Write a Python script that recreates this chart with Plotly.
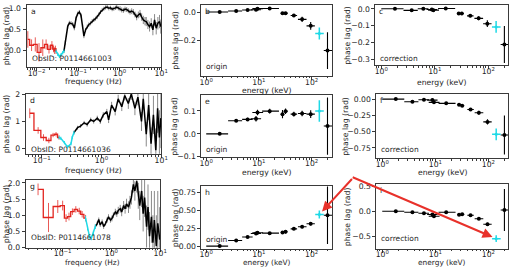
import numpy as np
import plotly.graph_objects as go

W, H = 520, 271

# ---------------- energy-resolved lags (middle & right columns) ----------------
energy = [1.8, 3.7, 6.1, 8.8, 9.4, 16, 28, 32, 46, 66, 96, 200]
energy_lo = [1.0, 2.6, 4.8, 7.0, 7.5, 11.5, 26, 30, 40, 55, 80, 170]
energy_hi = [2.6, 4.8, 7.6, 11.0, 12.0, 24, 30, 35, 53, 80, 115, 245]
energy_cyan = [140]
energy_cyan_lo = [117]
energy_cyan_hi = [170]

lag_b = [0.0, 0.007, 0.014, 0.016, 0.024, 0.025, -0.008, -0.008, -0.025, -0.052, -0.098, -0.273]
err_b = [0.004, 0.004, 0.005, 0.006, 0.006, 0.006, 0.007, 0.007, 0.01, 0.018, 0.028, 0.13]
lag_b_cyan = [-0.152]
err_b_cyan = [0.043]

lag_c = [0.0, -0.009, 0.0, -0.004, -0.008, 0.002, -0.028, -0.028, -0.042, -0.057, -0.089, -0.213]
err_c = [0.004, 0.004, 0.004, 0.005, 0.005, 0.005, 0.006, 0.006, 0.009, 0.012, 0.02, 0.11]
lag_c_cyan = [-0.108]
err_c_cyan = [0.035]

lag_e = [0.0, 0.057, 0.063, 0.066, 0.093, 0.099, 0.086, 0.099, 0.086, 0.089, 0.086, 0.034]
err_e = [0.002, 0.005, 0.007, 0.012, 0.012, 0.01, 0.018, 0.012, 0.01, 0.012, 0.017, 0.125]
lag_e_cyan = [0.1]
err_e_cyan = [0.047]

lag_f = [0.0, -0.04, -0.01, -0.015, -0.05, -0.065, -0.085, -0.10, -0.16, -0.21, -0.35, -0.55]
err_f = [0.005, 0.008, 0.01, 0.02, 0.02, 0.015, 0.02, 0.02, 0.02, 0.03, 0.04, 0.3]
lag_f_cyan = [-0.54]
err_f_cyan = [0.09]

lag_h = [0.0, 0.077, 0.127, 0.175, 0.185, 0.18, 0.19, 0.20, 0.24, 0.27, 0.31, 0.43]
err_h = [0.005, 0.01, 0.012, 0.02, 0.02, 0.015, 0.02, 0.025, 0.015, 0.02, 0.025, 0.4]
lag_h_cyan = [0.44]
err_h_cyan = [0.055]

lag_i = [0.0, -0.02, -0.04, -0.065, -0.1, -0.02, -0.07, -0.06, -0.08, -0.15, -0.26, 0.025]
err_i = [0.01, 0.01, 0.01, 0.02, 0.02, 0.015, 0.02, 0.02, 0.02, 0.02, 0.03, 0.42]
lag_i_cyan = [-0.55]
err_i_cyan = [0.07]

# ---------------- frequency-resolved lags (left column) ----------------
# ObsID P0114661003
freq_a_red = [0.00617, 0.00759, 0.00933, 0.01148, 0.01413, 0.01698, 0.01995, 0.02344, 0.0257, 0.0272, 0.0285, 0.0295]
lag_a_red = [0.26, 0.12, 0.14, -0.05, 0.06, 0.14, 0.02, 0.12, 0.03, -0.01, 0.04, -0.02]
err_a_red = [0.2, 0.14, 0.17, 0.22, 0.2, 0.12, 0.1, 0.1, 0.08, 0.08, 0.07, 0.07]
freq_a_cyan = [0.0295, 0.0324, 0.0355, 0.0389, 0.0427, 0.0457]
lag_a_cyan = [-0.02, -0.10, -0.15, -0.11, -0.06, -0.02]
err_a_cyan = [0.04, 0.04, 0.04, 0.04, 0.04, 0.04]
freq_a = [0.0457, 0.0490, 0.0525, 0.0562, 0.0617, 0.0676, 0.0741, 0.0813, 0.0891, 0.0977,
          0.1072, 0.1175, 0.1288, 0.1380, 0.1514, 0.1660, 0.1820, 0.1995, 0.2188, 0.2399,
          0.2630, 0.2884, 0.3162, 0.3467, 0.3802, 0.4169, 0.4571, 0.5012, 0.5495, 0.6026,
          0.6607, 0.7244, 0.7943, 0.8511, 0.9333, 1.023, 1.122, 1.230, 1.349, 1.479,
          1.622, 1.778, 1.950, 2.138, 2.344, 2.570, 2.818, 3.090, 3.388, 3.715,
          4.074, 4.365, 4.786, 5.248, 5.754, 6.310, 6.918, 7.586, 8.318, 9.120, 9.772]
lag_a = [-0.02, 0.18, 0.37, 0.57, 0.66, 0.65, 0.63, 0.53, 0.77, 0.88,
         0.92, 0.84, 0.57, 0.34, 0.49, 0.57, 0.62, 0.65, 0.70, 0.73,
         0.76, 0.80, 0.86, 0.92, 0.97, 1.00, 1.03, 1.04, 1.01, 1.02,
         0.99, 1.00, 1.02, 1.04, 1.01, 1.00, 0.97, 0.96, 0.99, 0.98,
         0.95, 0.92, 0.94, 0.92, 0.86, 0.80, 0.85, 0.88, 0.80, 0.73,
         0.70, 0.69, 0.62, 0.57, 0.65, 0.49, 0.73, 0.53, 0.65, 0.69, 0.57]
err_a = [0.05, 0.05, 0.05, 0.05, 0.05, 0.05, 0.05, 0.05, 0.05, 0.05,
         0.05, 0.05, 0.05, 0.05, 0.05, 0.05, 0.05, 0.05, 0.05, 0.05,
         0.05, 0.05, 0.05, 0.05, 0.05, 0.05, 0.05, 0.05, 0.05, 0.05,
         0.05, 0.05, 0.05, 0.05, 0.05, 0.06, 0.06, 0.06, 0.06, 0.06,
         0.06, 0.06, 0.07, 0.07, 0.07, 0.08, 0.08, 0.09, 0.09, 0.1,
         0.1, 0.11, 0.11, 0.12, 0.12, 0.13, 0.14, 0.15, 0.15, 0.16, 0.17]

# ObsID P0114661036
freq_d_red = [0.0631, 0.0871, 0.1072, 0.1318, 0.1549, 0.1738, 0.1950]
lag_d_red = [1.30, 0.67, 0.41, 0.30, 0.50, 0.53, 0.41]
err_d_red = [0.18, 0.12, 0.12, 0.1, 0.08, 0.08, 0.08]
freq_d_cyan = [0.1950, 0.2089, 0.2399, 0.2692, 0.3090, 0.3236, 0.3467]
lag_d_cyan = [0.41, 0.38, 0.22, 0.06, 0.18, 0.41, 0.59]
err_d_cyan = [0.06, 0.06, 0.06, 0.06, 0.06, 0.06, 0.06]
freq_d = [0.3467, 0.3981, 0.4467, 0.5129, 0.5754, 0.6607, 0.7413, 0.8511, 0.9550, 1.072,
          1.230, 1.318, 1.479, 1.698, 1.905, 2.188, 2.455, 2.818, 3.162, 3.631,
          4.074, 4.677, 5.012, 5.623, 6.166, 6.761, 7.413, 8.128, 8.710, 9.333, 9.886]
lag_d = [0.59, 0.77, 0.83, 0.95, 0.89, 1.06, 1.0, 1.12, 1.0, 1.24,
         1.36, 1.06, 1.6, 1.36, 1.83, 1.54, 1.95, 1.66, 2.01, 1.48,
         1.89, 1.0, 1.83, 0.53, 1.6, 0.18, 1.24, -0.06, 1.48, 0.41, 1.12]
err_d = [0.07, 0.07, 0.07, 0.07, 0.08, 0.08, 0.08, 0.09, 0.09, 0.1,
         0.1, 0.12, 0.12, 0.14, 0.15, 0.16, 0.18, 0.2, 0.22, 0.25,
         0.3, 0.35, 0.4, 0.45, 0.55, 0.6, 0.7, 0.8, 0.9, 1.0, 1.1]

# ObsID P0114661078
freq_g_red = [0.0313, 0.0513, 0.0794, 0.1, 0.1175, 0.1349, 0.1585, 0.1862, 0.2188, 0.2512, 0.2951]
lag_g_red = [1.80, 0.93, 1.27, 1.30, 0.91, 0.96, 1.11, 1.18, 1.13, 1.03, 0.91]
err_g_red = [0.18, 0.45, 0.2, 0.15, 0.12, 0.12, 0.1, 0.1, 0.1, 0.1, 0.1]
freq_g_cyan = [0.2951, 0.3236, 0.3548, 0.3890, 0.4266, 0.4677]
lag_g_cyan = [0.91, 0.60, 0.35, 0.30, 0.45, 0.65]
err_g_cyan = [0.07, 0.07, 0.07, 0.07, 0.07, 0.07]
freq_g = [0.4677, 0.5129, 0.5495, 0.5888, 0.6457, 0.6918, 0.7586, 0.8128, 0.8710, 0.9550,
          1.023, 1.096, 1.202, 1.288, 1.380, 1.514, 1.622, 1.778, 1.905, 2.042,
          2.239, 2.399, 2.570, 2.818, 3.020, 3.311, 3.548, 3.802, 4.169, 4.467,
          4.786, 5.248, 5.623, 6.026, 6.607, 7.079, 7.586, 8.318, 8.913, 9.772]
lag_g = [0.65, 0.75, 0.87, 0.70, 0.80, 0.65, 0.75, 0.85, 0.95, 0.85,
         0.90, 1.0, 1.10, 1.05, 1.15, 1.20, 1.10, 1.30, 1.20, 1.35,
         1.25, 1.40, 1.55, 1.95, 1.75, 2.05, 1.60, 1.30, 1.75, 1.05,
         1.55, 0.65, 1.25, 0.35, 0.95, 0.15, 0.85, 0.05, 0.75, 0.25]
err_g = [0.06, 0.06, 0.06, 0.06, 0.07, 0.07, 0.07, 0.08, 0.08, 0.08,
         0.09, 0.09, 0.1, 0.1, 0.11, 0.12, 0.13, 0.14, 0.15, 0.16,
         0.18, 0.2, 0.22, 0.25, 0.3, 0.35, 0.4, 0.45, 0.5, 0.55,
         0.6, 0.65, 0.7, 0.75, 0.8, 0.85, 0.9, 0.95, 1.0, 1.0]

obs_ids = ["P0114661003", "P0114661036", "P0114661078"]

# ---------------- styling ----------------
RED = "#e2231d"
RED_ERR = "rgba(226,35,29,0.75)"
CYAN = "#1fd9e6"
BLACK = "#000000"
GRAY_ERR = "rgba(40,40,40,0.55)"
TXT = "#262626"
FONT = "DejaVu Sans"
FS = 7.7

fig = go.Figure()


def ax_name(n, kind):
    return kind if n == 1 else f"{kind}{n}"


def add_freq(n, f, lag, err, color, ecolor, shape, width):
    fig.add_trace(go.Scatter(
        x=f, y=lag, mode="lines",
        line=dict(color=color, width=width, shape=shape),
        error_y=dict(type="data", array=err, color=ecolor, thickness=1, width=0),
        xaxis=ax_name(n, "x"), yaxis=ax_name(n, "y"),
        showlegend=False, hoverinfo="skip"))


def add_energy(n, lag, err, lag_cy, err_cy):
    E = np.array(energy, float)
    lo = np.array(energy_lo, float)
    hi = np.array(energy_hi, float)
    fig.add_trace(go.Scatter(
        x=energy, y=lag, mode="markers",
        marker=dict(color=BLACK, size=4),
        error_x=dict(type="data", symmetric=False, array=hi - E, arrayminus=E - lo,
                     color=BLACK, thickness=1.1, width=0),
        error_y=dict(type="data", array=err, color=BLACK, thickness=1.1, width=0),
        xaxis=ax_name(n, "x"), yaxis=ax_name(n, "y"),
        showlegend=False, hoverinfo="skip"))
    Ec = np.array(energy_cyan, float)
    fig.add_trace(go.Scatter(
        x=energy_cyan, y=lag_cy, mode="markers",
        marker=dict(color=CYAN, size=3),
        error_x=dict(type="data", symmetric=False,
                     array=np.array(energy_cyan_hi) - Ec, arrayminus=Ec - np.array(energy_cyan_lo),
                     color=CYAN, thickness=1.5, width=0),
        error_y=dict(type="data", array=err_cy, color=CYAN, thickness=1.5, width=0),
        xaxis=ax_name(n, "x"), yaxis=ax_name(n, "y"),
        showlegend=False, hoverinfo="skip"))


# left column
for n, (fr, lr, er, fc, lc, ec, fb, lb, eb) in zip(
        [1, 4, 7],
        [(freq_a_red, lag_a_red, err_a_red, freq_a_cyan, lag_a_cyan, err_a_cyan, freq_a, lag_a, err_a),
         (freq_d_red, lag_d_red, err_d_red, freq_d_cyan, lag_d_cyan, err_d_cyan, freq_d, lag_d, err_d),
         (freq_g_red, lag_g_red, err_g_red, freq_g_cyan, lag_g_cyan, err_g_cyan, freq_g, lag_g, err_g)]):
    add_freq(n, fb, lb, eb, BLACK, GRAY_ERR, "linear", 1.5)
    add_freq(n, fr, lr, er, RED, RED_ERR, "hvh", 1.3)
    add_freq(n, fc, lc, ec, CYAN, CYAN, "linear", 1.5)

add_energy(2, lag_b, err_b, lag_b_cyan, err_b_cyan)
add_energy(3, lag_c, err_c, lag_c_cyan, err_c_cyan)
add_energy(5, lag_e, err_e, lag_e_cyan, err_e_cyan)
add_energy(6, lag_f, err_f, lag_f_cyan, err_f_cyan)
add_energy(8, lag_h, err_h, lag_h_cyan, err_h_cyan)
add_energy(9, lag_i, err_i, lag_i_cyan, err_i_cyan)

# ---------------- layout of the 3x3 grid (pixel frames) ----------------
panels = [
    # n, letter, x px, y px, x range(log), y range, y tick values, tickformat, kind
    (1, "a", (25, 162), (1, 65), (-2.24, 1.0), (-0.40, 1.09), [0, 0.5, 1.0], ".1f", "freq"),
    (2, "b", (203, 336), (1, 74), (-0.09, 2.39), (-0.45, 0.05), [-0.2, 0.0], ".1f", "origin"),
    (3, "c", (380, 515), (1, 63), (-0.11, 2.37), (-0.335, 0.023), [-0.3, -0.2, -0.1, 0.0], ".1f", "correction"),
    (4, "d", (24, 162), (93, 155), (-1.27, 1.0), (-0.19, 2.01), [0, 1, 2], "d", "freq"),
    (5, "e", (203, 336), (94, 158), (-0.09, 2.39), (-0.1, 0.17), [-0.1, 0.0, 0.1], ".1f", "origin"),
    (6, "f", (381, 515), (93, 159), (-0.11, 2.37), (-0.9, 0.08), [-0.75, -0.5, -0.25, 0.0], ".2f", "correction"),
    (7, "g", (24, 161), (182, 252), (-1.76, 1.0), (0.0, 2.09), [0, 0.5, 1.0, 1.5, 2.0], ".1f", "freq"),
    (8, "h", (203, 336), (188, 253), (-0.09, 2.39), (-0.035, 0.84), [0, 0.25, 0.5, 0.75], ".2f", "origin"),
    (9, "i", (381, 515), (186, 253), (-0.11, 2.37), (-0.75, 0.55), [-0.5, 0.0, 0.5], ".1f", "correction"),
]

xtitle_y = {1: 80.5, 2: 89.5, 3: 81.5, 4: 172, 5: 174, 6: 174, 7: 267.3, 8: 267.3, 9: 267.3}
xtitle_fs = {7: 7.4, 8: 7.4, 9: 7.4}
xlabel_standoff = {7: -5, 8: -5, 9: -5}
ytitle_x = {1: 4.5, 2: 176.5, 3: 352, 4: 4.5, 5: 176, 6: 350, 7: 4.5, 8: 176, 9: 351}
label_y = {1: 56, 2: 64.5, 3: 56, 4: 150, 5: 150.5, 6: 150, 7: 242, 8: 243.5, 9: 243}


def px_x(p):
    return p / W


def px_y(p):
    return 1 - p / H


def sup(k):
    return "10<sup>%s%d</sup>" % ("\u2212" if k < 0 else "", abs(k))


annotations = []
layout_axes = {}
obs_iter = iter(obs_ids)
for n, letter, xd, yd, xr, yr, yt, fmt, kind in panels:
    xa = "xaxis" if n == 1 else f"xaxis{n}"
    ya = "yaxis" if n == 1 else f"yaxis{n}"
    common = dict(showline=True, mirror=True, linecolor="#3a3a3a", linewidth=1,
                  ticks="outside", ticklen=3, tickwidth=1, tickcolor="#3a3a3a",
                  showgrid=False, zeroline=False,
                  tickfont=dict(size=FS, color=TXT, family=FONT))
    decades = list(range(int(np.ceil(xr[0])), int(np.floor(xr[1] + 1e-9)) + 1))
    layout_axes[xa] = dict(common, type="log", range=list(xr),
                           domain=[px_x(xd[0]), px_x(xd[1])],
                           anchor=ax_name(n, "y"),
                           tickmode="array", tickvals=[10.0 ** k for k in decades],
                           ticktext=[sup(k) for k in decades],
                           ticklabelstandoff=xlabel_standoff.get(n, -4),
                           minor=dict(ticks="outside", ticklen=1.8, tickcolor="#3a3a3a",
                                      dtick="D1", showgrid=False))
    layout_axes[ya] = dict(common, range=list(yr),
                           domain=[px_y(yd[1]), px_y(yd[0])],
                           anchor=ax_name(n, "x"),
                           tickmode="array", tickvals=yt, tickformat=fmt)
    xc = (xd[0] + xd[1]) / 2
    yc = (yd[0] + yd[1]) / 2
    annotations.append(dict(xref="paper", yref="paper", x=px_x(xc), y=px_y(xtitle_y[n]),
                            text="frequency (Hz)" if kind == "freq" else "energy (keV)",
                            showarrow=False, xanchor="center", yanchor="middle",
                            font=dict(size=xtitle_fs.get(n, FS), color=TXT, family=FONT)))
    annotations.append(dict(xref="paper", yref="paper", x=px_x(ytitle_x[n]), y=px_y(yc),
                            text="phase lag (rad)", textangle=-90,
                            showarrow=False, xanchor="center", yanchor="middle",
                            font=dict(size=FS, color=TXT, family=FONT)))
    annotations.append(dict(xref="paper", yref="paper", x=px_x(xd[0] + 2), y=px_y(yd[0] + 0.5),
                            text=letter, showarrow=False, xanchor="left", yanchor="top",
                            font=dict(size=FS, color=TXT, family=FONT)))
    if kind == "freq":
        txt = "ObsID: " + next(obs_iter)
        lx = xd[0] + 3.5
    else:
        txt = kind
        lx = xd[0] + 3.0
    annotations.append(dict(xref="paper", yref="paper", x=px_x(lx), y=px_y(label_y[n]),
                            text=txt, showarrow=False, xanchor="left", yanchor="middle",
                            font=dict(size=7.5, color=TXT, family=FONT)))

# red arrows pointing at the cyan points of panels h and i
ARROW = "#e8312a"
annotations.append(dict(xref="x8", yref="y8", x=float(np.log10(energy_cyan[0])), y=lag_h_cyan[0],
                        axref="pixel", ayref="pixel", ax=34, ay=-37, text="",
                        showarrow=True, arrowhead=2, arrowsize=1, arrowwidth=2,
                        arrowcolor=ARROW, standoff=4))
annotations.append(dict(xref="x9", yref="y9", x=float(np.log10(energy_cyan[0])), y=lag_i_cyan[0],
                        axref="pixel", ayref="pixel", ax=-145, ay=-62, text="",
                        showarrow=True, arrowhead=2, arrowsize=1, arrowwidth=2,
                        arrowcolor=ARROW, standoff=4))

fig.update_layout(width=W, height=H, margin=dict(l=0, r=0, t=0, b=0),
                  paper_bgcolor="white", plot_bgcolor="white",
                  font=dict(family=FONT, size=FS, color=TXT),
                  annotations=annotations, showlegend=False, **layout_axes)

fig.write_html("out.html", config={"displayModeBar": False},
               post_script="document.body.style.margin='0px';document.body.style.padding='0px';")
